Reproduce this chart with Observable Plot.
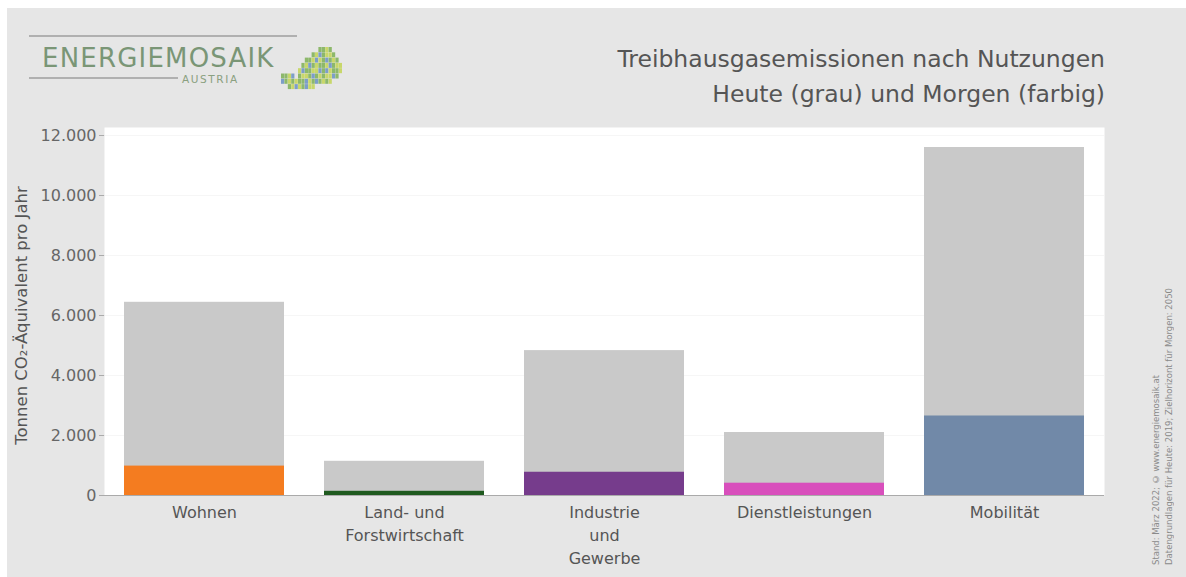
<!DOCTYPE html>
<html>
<head>
<meta charset="utf-8">
<script src="https://cdn.jsdelivr.net/npm/d3@7"></script>
<script src="https://cdn.jsdelivr.net/npm/@observablehq/plot@0.6"></script>
<style>
  html, body { margin: 0; padding: 0; background: #ffffff; }
  #wrap { position: relative; width: 1186px; height: 577px; overflow: hidden; font-family: "DejaVu Sans", Verdana, sans-serif; }
  #panel { position: absolute; left: 7px; top: 8px; width: 1179px; height: 569px; background: #e6e6e6; }
  #chart { position: absolute; left: 0; top: 0; }
  .title { position: absolute; right: 81px; top: 42px; text-align: right; font-size: 23.5px; line-height: 35px; color: #555; white-space: nowrap; }
  #logo { position: absolute; left: 0; top: 0; }
  .credit { position: absolute; bottom: 12px; font-size: 8.5px; color: #8a8a8a; writing-mode: vertical-rl; transform: rotate(180deg); white-space: nowrap; }
</style>
</head>
<body>
<div id="wrap">
  <div id="panel"></div>
  <div id="chart"></div>
  <div class="title">Treibhausgasemissionen nach Nutzungen<br>Heute (grau) und Morgen (farbig)</div>
  <svg id="logo" width="360" height="100"></svg>
  <div class="credit" style="left:1151px;">Stand: März 2022; © www.energiemosaik.at</div>
  <div class="credit" style="left:1164px;">Datengrundlagen für Heute: 2019; Zielhorizont für Morgen: 2050</div>
</div>
<script>
// ---- data ----
const categories = ["Wohnen", "Land- und\nForstwirtschaft", "Industrie\nund\nGewerbe", "Dienstleistungen", "Mobilität"];
const heute = [6440, 1140, 4830, 2100, 11600];
const morgen = [980, 140, 775, 410, 2650];
const morgenColors = ["#f47c20", "#1f5a1f", "#763c8c", "#d84fbc", "#7189a8"];
const yTicks = [0, 2000, 4000, 6000, 8000, 10000, 12000];
const yLabel = "Tonnen CO₂-Äquivalent pro Jahr";

const heuteData = categories.map((c, i) => ({cat: c, value: heute[i]}));
const morgenData = categories.map((c, i) => ({cat: c, value: morgen[i], color: morgenColors[i]}));

const fmt = d => d3.format(",")(d).replace(/,/g, ".");

const chart = Plot.plot({
  width: 1186,
  height: 577,
  marginLeft: 104,
  marginRight: 82,
  marginTop: 135,
  marginBottom: 82,
  style: {background: "transparent", fontFamily: "DejaVu Sans, Verdana, sans-serif"},
  x: {type: "band", domain: categories, paddingInner: 0.2, paddingOuter: 0.1},
  y: {domain: [0, 12000]},
  marks: [
    Plot.frame({fill: "white", stroke: null, insetTop: -8}),
    Plot.gridY(yTicks, {stroke: "#000", strokeOpacity: 0.035}),
    Plot.barY(heuteData, {x: "cat", y: "value", fill: "#c9c9c9"}),
    Plot.barY(morgenData, {x: "cat", y: "value", fill: "color"}),
    Plot.ruleY([0], {stroke: "#aaaaaa", strokeWidth: 1.2}),
    Plot.axisY(yTicks, {
      tickFormat: fmt, fontSize: 16, tickSize: 5, tickPadding: 3, stroke: "#aaa", color: "#666",
      label: yLabel, labelAnchor: "center", labelOffset: 89, labelArrow: "none"
    }),
    Plot.axisX({tickSize: 0, tickPadding: 6, fontSize: 16, lineHeight: 1.45, color: "#555", label: null})
  ]
});
chart.querySelectorAll("g[aria-label='y-axis label'] text").forEach(t => {
  t.setAttribute("font-size", "16.5");
  t.setAttribute("fill", "#555");
});
document.getElementById("chart").appendChild(chart);

// ---- logo (decoration) ----
const logo = d3.select("#logo");
logo.append("line").attr("x1", 29).attr("x2", 297).attr("y1", 36).attr("y2", 36).attr("stroke", "#b0b0b0").attr("stroke-width", 2);
logo.append("line").attr("x1", 29).attr("x2", 178).attr("y1", 78).attr("y2", 78).attr("stroke", "#b0b0b0").attr("stroke-width", 2);
logo.append("text").attr("x", 42).attr("y", 67).attr("font-size", 26).attr("letter-spacing", 1.2)
  .attr("fill", "#7a9676").attr("font-family", "DejaVu Sans, sans-serif").text("ENERGIEMOSAIK");
logo.append("text").attr("x", 182).attr("y", 83).attr("font-size", 10.5).attr("letter-spacing", 1.6)
  .attr("fill", "#8aa080").attr("font-family", "DejaVu Sans, sans-serif").text("AUSTRIA");
const tileRows = [
  "...........ggyg...",
  ".........gybgyyg..",
  ".......ggybygbgyg.",
  "......gybgyggybgyy",
  ".....ybggyybgbyggy",
  "ggyb.gyygbgygyybg.",
  "bgygyggbygbgygy...",
  "..gybygbyy........"
];
const tileColor = {g: "#8db86b", y: "#c8d76a", b: "#7d9ec8"};
tileRows.forEach((row, r) => {
  [...row].forEach((ch, c) => {
    if (ch === ".") return;
    logo.append("rect").attr("x", 281 + c * 3.4).attr("y", 47 + r * 5.3)
      .attr("width", 3.2).attr("height", 5).attr("fill", tileColor[ch]);
  });
});
</script>
</body>
</html>
